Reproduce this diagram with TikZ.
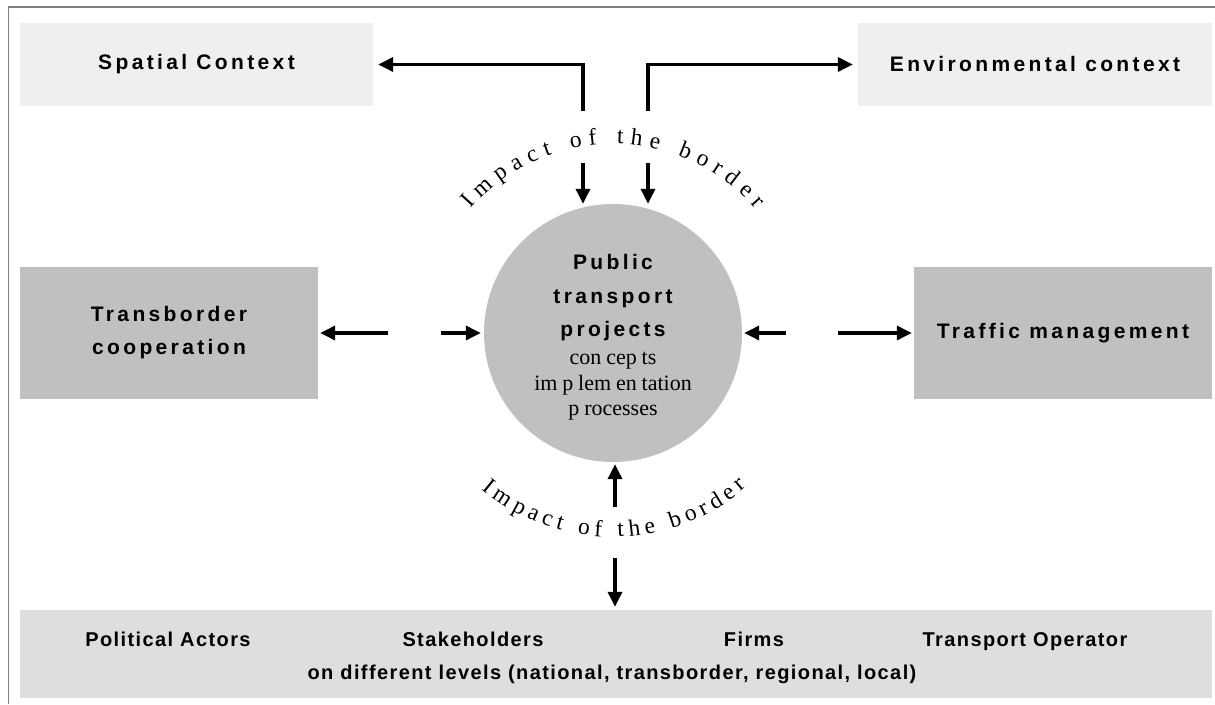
\documentclass[tikz,border=0pt]{standalone}
\usepackage{fontspec}
\setmainfont{Liberation Serif}
\newfontfamily\hdfont[LetterSpace=16]{Liberation Sans}
\newfontfamily\btfont[LetterSpace=7]{Liberation Sans}
\newfontfamily\srfont{Liberation Serif}
\usetikzlibrary{arrows.meta,decorations.text}
\definecolor{lightbox}{HTML}{EFEFEF}
\definecolor{midbox}{HTML}{C0C0C0}
\definecolor{botbox}{HTML}{DEDEDE}
\definecolor{framegray}{HTML}{808080}
\newcommand{\gp}{\kern0.22em}
\begin{document}
\begin{tikzpicture}[x=1pt,y=1pt,
  ctxbox/.style={fill=lightbox, draw=none, minimum width=353pt, minimum height=83pt, inner sep=0pt,
    font=\hdfont\bfseries\fontsize{21}{24}\selectfont},
  sidebox/.style={fill=midbox, draw=none, minimum width=298pt, minimum height=132pt, inner sep=0pt,
    align=center, font=\hdfont\bfseries\fontsize{21}{33}\selectfont},
  hub/.style={circle, fill=midbox, draw=none, minimum size=258pt, inner sep=0pt},
  hubtext/.style={align=center, inner sep=0pt, font=\hdfont\bfseries\fontsize{21}{34}\selectfont},
  actor/.style={font=\btfont\bfseries\fontsize{20}{24}\selectfont, inner sep=0pt, anchor=base},
  arr/.style={line width=3.4pt, -{Triangle[length=15pt,width=14pt]}},
  curvetxt/.style={decorate, decoration={text along path, text align={fit to path},
    text={|\srfont\fontsize{23.5}{23.5}\selectfont|#1}}}
]
\useasboundingbox (0,0) rectangle (1215,704);
% frame
\draw[framegray, line width=1.4pt] (8.5,0) -- (8.5,697) -- (1215,697);

% boxes
\node[ctxbox] (sp) at (196.5,639.5) {Spatial Context};
\node[ctxbox, minimum width=354pt] (env) at (1035,639.5) {Environmental context};
\node[sidebox] (tb) at (169,371) {Transborder\\cooperation};
\node[sidebox] (tm) at (1063,371) {};
\node[font=\hdfont\bfseries\fontsize{21}{24}\selectfont, inner sep=0pt] (tmt) at (tm.center) {Traffic management};
\node[fill=botbox, draw=none, minimum width=1192pt, minimum height=88pt, inner sep=0pt] (bot) at (616,50) {};
\node[actor] (pa) at (168,57) {Political Actors};
\node[actor] (sh) at (473,57) {Stakeholders};
\node[actor] (fi) at (754,57) {Firms};
\node[actor] (to) at (1025,57) {Transport Operator};
\node[actor] (lv) at (612,24) {on different levels (national, transborder, regional, local)};

% hub
\node[hub] (hub) at (613,371) {};
\node[hubtext] (hubt) at (613,367) {Public\\[0pt]transport\\[-1pt]projects\\[-6pt]
  {\srfont\mdseries\fontsize{22}{34}\selectfont con\gp cep\gp ts}\\[-8pt]
  {\srfont\mdseries\fontsize{22}{34}\selectfont im\gp p\gp lem\gp en\gp tation}\\[-9pt]
  {\srfont\mdseries\fontsize{22}{34}\selectfont p\gp rocesses}};

% free arrow ends
\coordinate (ul) at (583,593);
\coordinate (ur) at (648,593);
\coordinate (dl1) at (583,541);
\coordinate (dr1) at (648,541);
\coordinate (lt1) at (388,371);
\coordinate (lt2) at (441,371);
\coordinate (rt1) at (786,371);
\coordinate (rt2) at (838,371);
\coordinate (bt1) at (615,197);
\coordinate (bt2) at (615,146);

% arrows
\draw[arr, shorten >=5pt] (ul) |- (sp.east);
\draw[arr, shorten >=5pt] (ur) |- (env.west);
\draw[arr] (dl1) -- (dl1 |- hub.north);
\draw[arr] (dr1) -- (dr1 |- hub.north);
\draw[arr, shorten >=2pt] (lt1) -- (tb.east |- lt1);
\draw[arr, shorten >=3pt] (lt2) -- (hub.west |- lt2);
\draw[arr, shorten >=2pt] (rt1) -- (hub.east |- rt1);
\draw[arr, shorten >=2pt] (rt2) -- (tm.west |- rt2);
\draw[arr, shorten >=2pt] (bt1) -- (bt1 |- hub.south);
\draw[arr, shorten >=3pt] (bt2) -- (bot.north -| bt2);

% curved labels
\path[curvetxt={Impact of the border}] (hub.center) ++(139:189) arc[start angle=139, end angle=41, radius=189];
\path[curvetxt={Impact of the border}] (hub.center) ++(230:204) arc[start angle=230, end angle=311, radius=204];
\end{tikzpicture}
\end{document}
